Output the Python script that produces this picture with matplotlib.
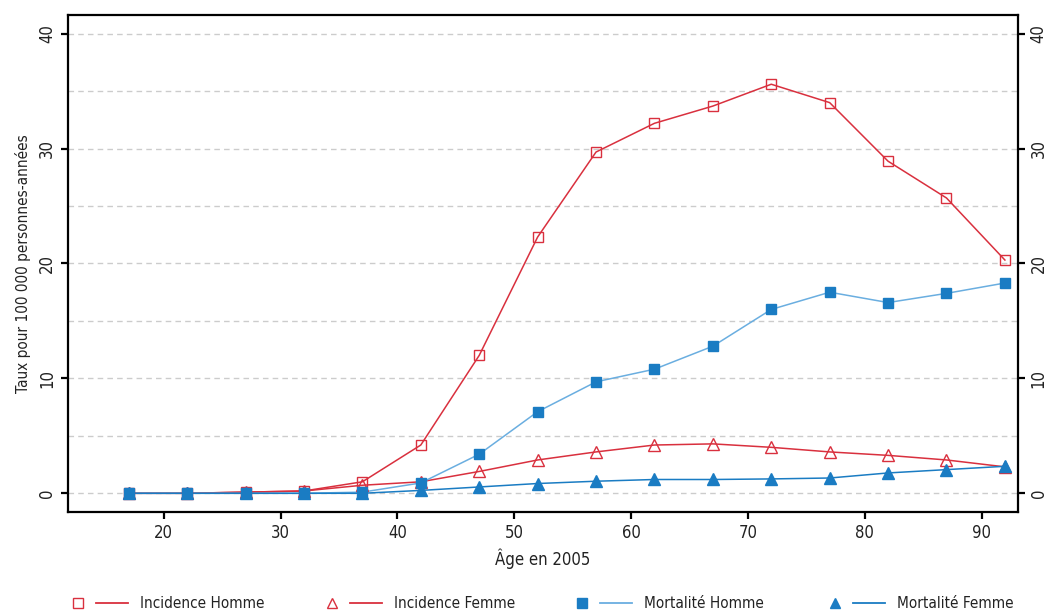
import matplotlib
matplotlib.use('Agg')
import matplotlib.pyplot as plt
from matplotlib.lines import Line2D
from matplotlib.legend_handler import HandlerTuple

plt.rcParams['font.family'] = ['DejaVu Sans']
plt.rcParams['font.stretch'] = 'condensed'

# Age at which each rate is shown
ages = [17, 22, 27, 32, 37, 42, 47, 52, 57, 62, 67, 72, 77, 82, 87, 92]

# Rates per 100 000 person-years
incidence_homme = [0.0, 0.0, 0.1, 0.2, 1.0, 4.2, 12.0, 22.3, 29.7, 32.2, 33.7, 35.6, 34.0, 28.9, 25.7, 20.3]
incidence_femme = [0.0, 0.0, 0.1, 0.2, 0.7, 1.0, 1.9, 2.9, 3.6, 4.2, 4.3, 4.0, 3.6, 3.3, 2.9, 2.3]
mortalite_homme = [0.0, 0.0, 0.0, 0.0, 0.1, 0.9, 3.4, 7.1, 9.7, 10.8, 12.8, 16.0, 17.5, 16.6, 17.4, 18.3]
mortalite_femme = [0.0, 0.0, 0.0, 0.0, 0.0, 0.25, 0.55, 0.85, 1.05, 1.2, 1.2, 1.25, 1.33, 1.77, 2.06, 2.35]

labels = ['Incidence Homme', 'Incidence Femme', 'Mortalité Homme', 'Mortalité Femme']
legend_x = [62, 316, 566, 819]  # left edge of each legend entry, px

red = '#d9303e'
blue = '#1a7cc3'
light_blue = '#6aaee0'

W, H = 1046, 612
fig = plt.figure(figsize=(W / 100, H / 100), dpi=100)
ax = fig.add_axes([0.065, 0.163, 0.908, 0.812])

series = [
    (incidence_homme, red, red, 's', 'none'),
    (incidence_femme, red, red, '^', 'none'),
    (mortalite_homme, light_blue, blue, 's', blue),
    (mortalite_femme, blue, blue, '^', blue),
]

handles = []
for vals, lc, mc, mk, fc in series:
    ax.plot(ages, vals, color=lc, lw=1.1, zorder=3)
    ax.plot(ages, vals, ls='none', marker=mk, ms=7.5 if mk == 's' else 8.5,
            mec=mc, mfc=fc, mew=1.0, zorder=4)
    h_mark = Line2D([], [], ls='none', marker=mk, ms=7, mec=mc, mfc=fc, mew=1.0)
    h_line = Line2D([], [], color=lc, lw=1.3)
    handles.append((h_mark, h_line))

ax.set_xlim(11.8, 93.1)
ax.set_ylim(-1.65, 41.6)
ax.set_xticks([20, 30, 40, 50, 60, 70, 80, 90])
ax.set_yticks([0, 10, 20, 30, 40])

for y in range(0, 41, 5):
    ax.axhline(y, color='#cccccc', lw=1.0, ls=(0, (4, 3)), zorder=1)

for s in ax.spines.values():
    s.set_linewidth(1.6)
    s.set_color('black')

ax.tick_params(axis='both', direction='out', length=5, width=1.6, labelsize=12,
               labelcolor='#222222')
ax.tick_params(axis='y', right=True, labelright=True)
for t in ax.yaxis.get_major_ticks():
    t.label1.set_rotation(90)
    t.label1.set_va('center')
    t.label2.set_rotation(90)
    t.label2.set_va('center')

ax.set_xlabel('Âge en 2005', fontsize=12, labelpad=5, color='#222222')
ax.set_ylabel('Taux pour 100 000 personnes-années', fontsize=11, labelpad=5,
              color='#222222')

for h, lab, x in zip(handles, labels, legend_x):
    fig.legend([h], [lab], loc='center left',
               bbox_to_anchor=(x / W, 1 - 604 / H), borderpad=0,
               borderaxespad=0, frameon=False, fontsize=11,
               handlelength=4.32, handletextpad=0.78,
               labelcolor='#222222',
               handler_map={tuple: HandlerTuple(ndivide=None, pad=0.13)})

fig.savefig('out.png', dpi=100)
